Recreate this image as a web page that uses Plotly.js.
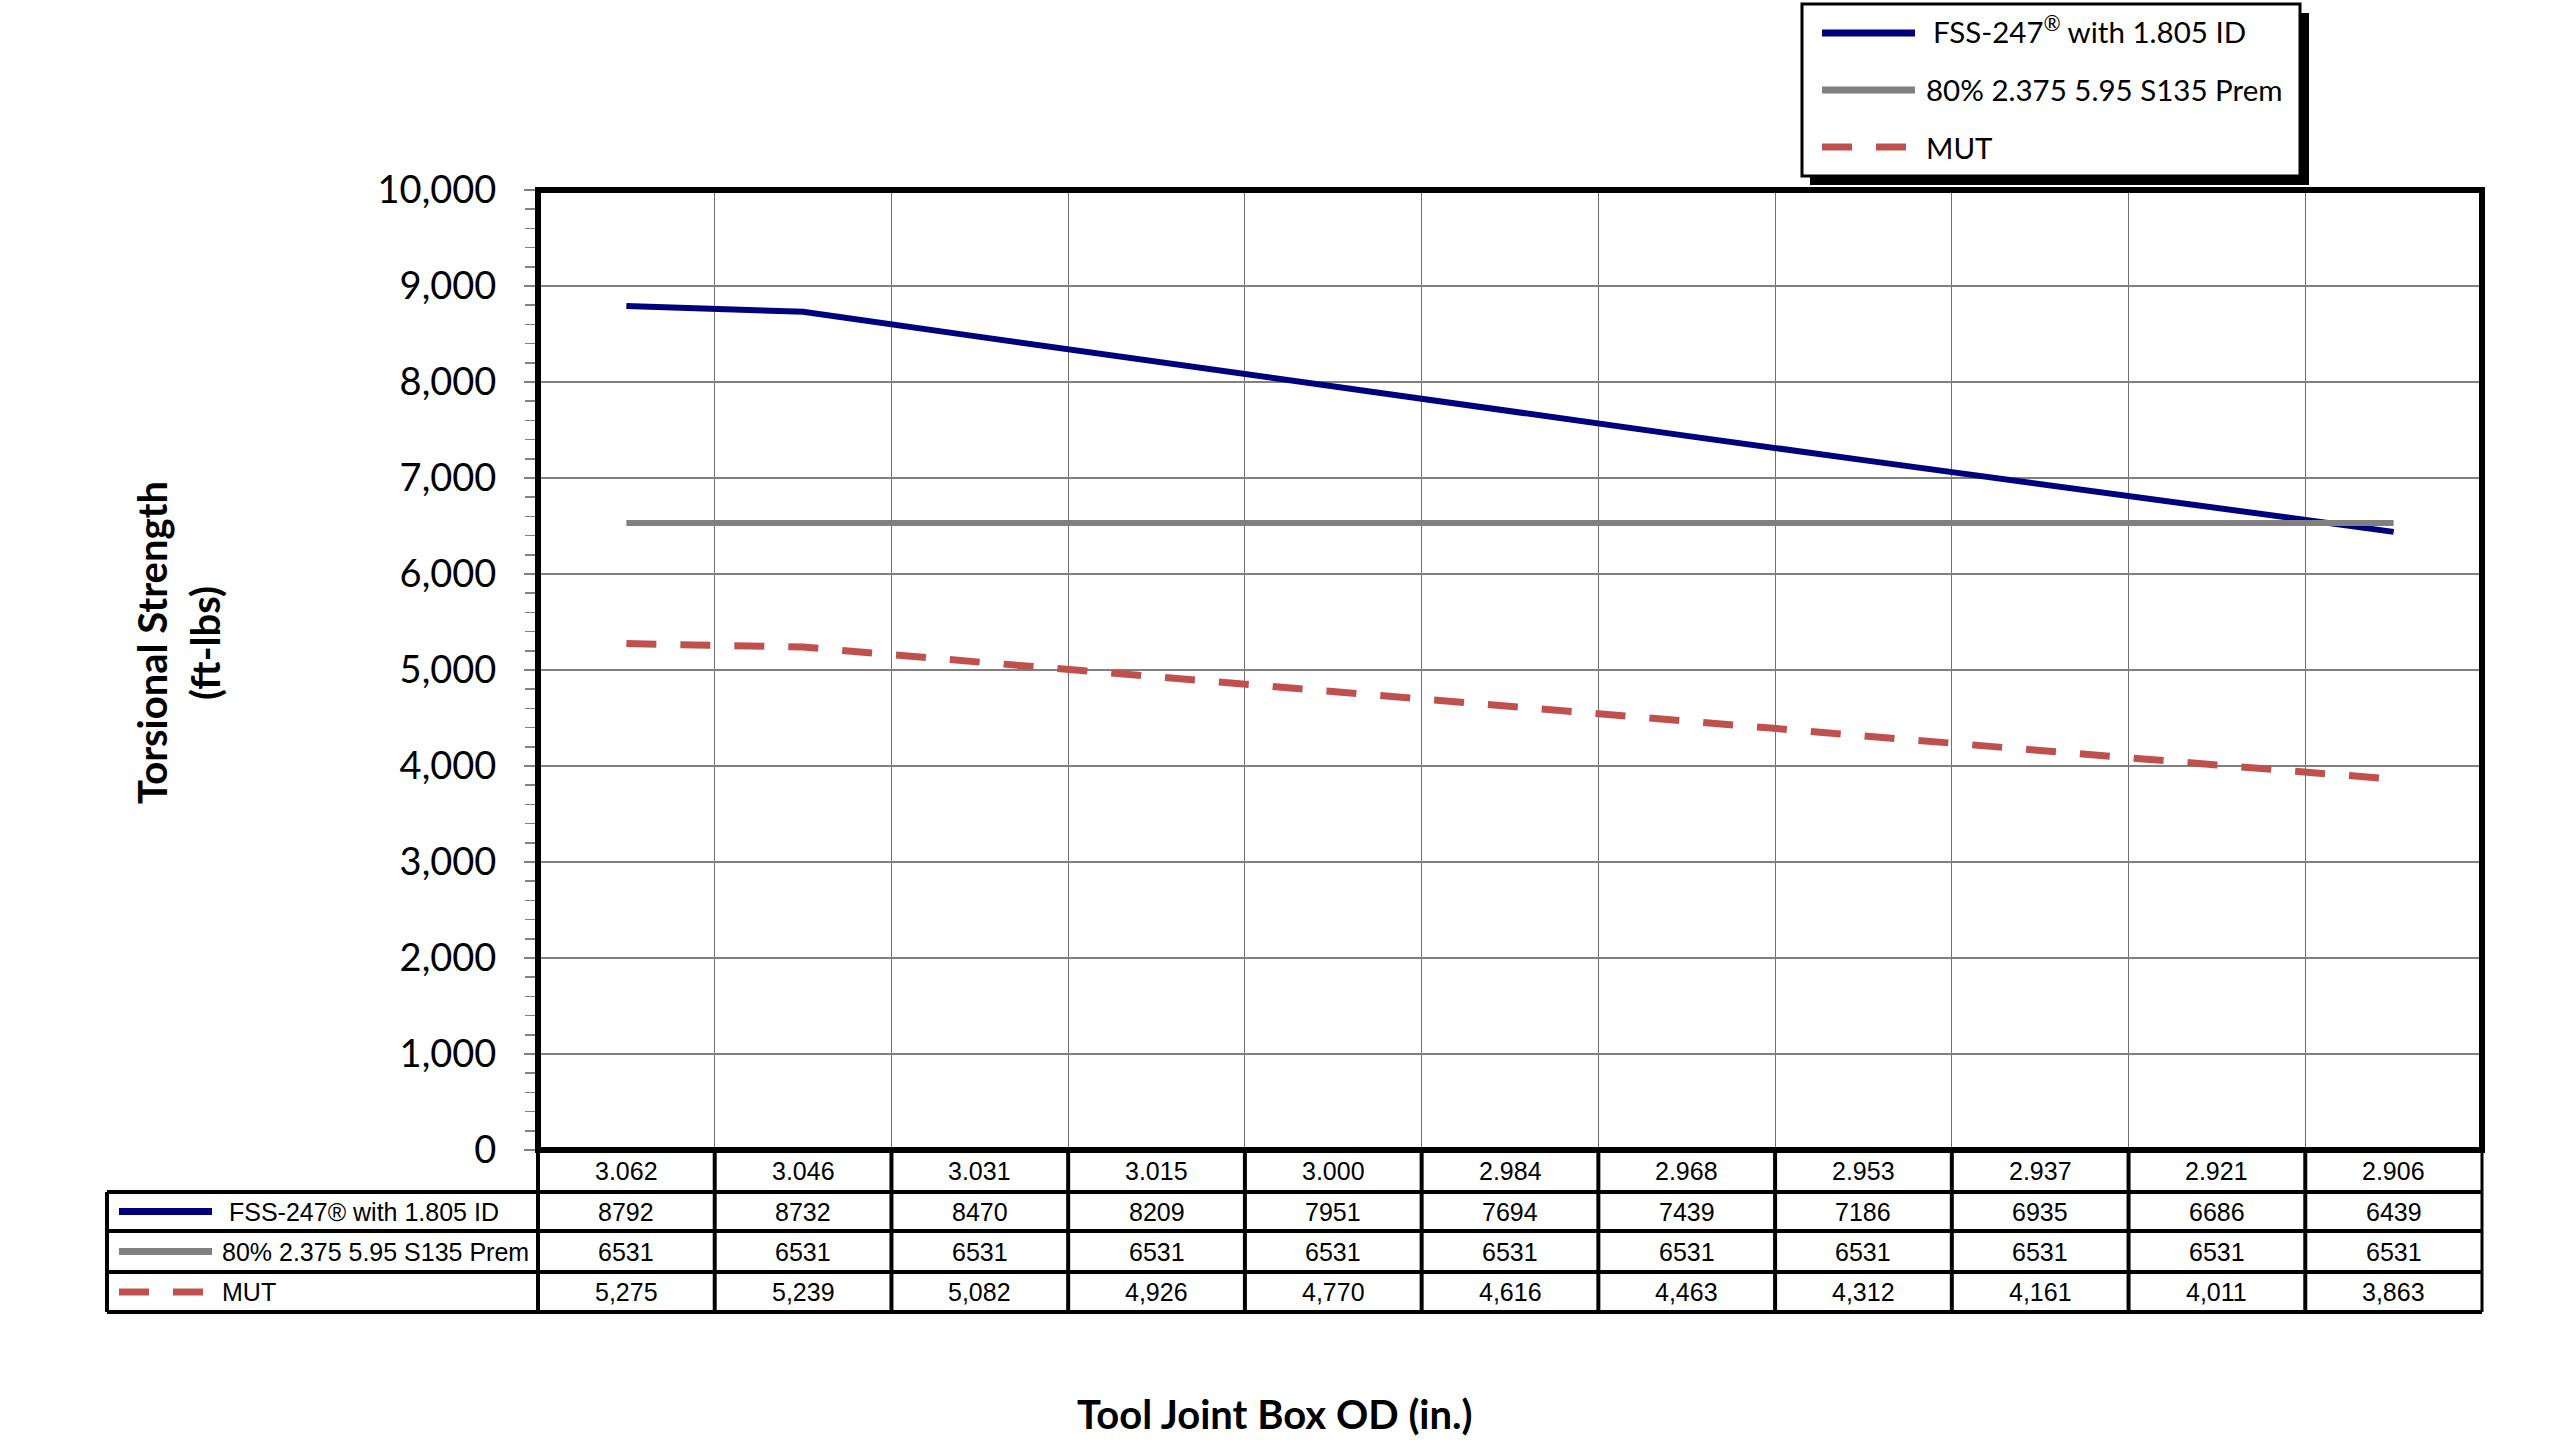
<!DOCTYPE html>
<html>
<head>
<meta charset="utf-8">
<script src="https://cdn.plot.ly/plotly-3.0.1.min.js"></script>
<style>html,body{margin:0;padding:0;background:#fff;}#chart{width:2560px;height:1452px;}</style>
</head>
<body>
<div id="chart"></div>
<script>
// ---- data ----
const categories = ["3.062","3.046","3.031","3.015","3.000","2.984","2.968","2.953","2.937","2.921","2.906"];
const seriesNames = ["FSS-247\u00AE with 1.805 ID", "80% 2.375 5.95 S135 Prem", "MUT"];
const fssValues  = [8792, 8732, 8470, 8209, 7951, 7694, 7439, 7186, 6935, 6686, 6439];
const premValues = [6531, 6531, 6531, 6531, 6531, 6531, 6531, 6531, 6531, 6531, 6531];
const mutValues  = [5275, 5239, 5082, 4926, 4770, 4616, 4463, 4312, 4161, 4011, 3863];
const yTitleLines = ["Torsional Strength", "(ft-lbs)"];
const xTitle = "Tool Joint Box OD (in.)";

// ---- styles ----
const seriesValues = [fssValues, premValues, mutValues];
const seriesColors = ["#00007F", "#808080", "#C0504D"];
const seriesDash = ["solid", "solid", "30px,24px"];
const seriesWidth = [6, 6, 7];
const tableFormats = [v => String(v), v => String(v), v => v.toLocaleString('en-US')];

// ---- geometry (pixels) ----
const FIG_W = 2560, FIG_H = 1452;
const L = 538, T = 190, R = 78, B = 302;
const W = FIG_W - L - R, H = FIG_H - T - B;
const px = p => (p - L) / W;
const py = p => (T + H - p) / H;

const calibri = "Lato, 'Open Sans', sans-serif";
const arial = "'Liberation Sans', Arial, sans-serif";

const traces = seriesValues.map((vals, i) => ({
  type: 'scatter', mode: 'lines',
  x: categories, y: vals, name: seriesNames[i],
  line: {color: seriesColors[i], width: seriesWidth[i], dash: seriesDash[i]},
  showlegend: false, hoverinfo: 'skip'
}));

const shapes = [];
const annotations = [];
const ann = o => annotations.push(Object.assign({showarrow:false, xanchor:'center', yanchor:'middle'}, o));

// plot border
shapes.push({type:'rect', xref:'paper', yref:'paper', x0:0, x1:1, y0:0, y1:1,
  line:{color:'#000', width:6}, fillcolor:'rgba(0,0,0,0)', layer:'above'});

// ---- data table ----
const rowEdges = [1150, 1192, 1231, 1272, 1312];
const tableLeft = 107;
const tl = {color:'#000', width:4};
shapes.push({type:'line', xref:'paper', yref:'paper', x0:0, x1:1, y0:py(1150), y1:py(1150), line:{color:'#000', width:6}});
for (let r = 1; r < rowEdges.length; r++) {
  shapes.push({type:'line', xref:'paper', yref:'paper', x0:px(tableLeft), x1:1,
    y0:py(rowEdges[r]), y1:py(rowEdges[r]), line: tl});
}
shapes.push({type:'line', xref:'paper', yref:'paper', x0:px(tableLeft), x1:px(tableLeft),
  y0:py(rowEdges[1]), y1:py(rowEdges[4]), line: tl});
shapes.push({type:'line', xref:'paper', yref:'paper', x0:0, x1:0,
  y0:py(rowEdges[0]), y1:py(rowEdges[4]), line: tl});
shapes.push({type:'line', xref:'paper', yref:'paper', x0:1, x1:1,
  y0:py(rowEdges[0]), y1:py(rowEdges[4]), line:{color:'#000', width:3}});
for (let i = 0; i < categories.length - 1; i++) {
  shapes.push({type:'line', xref:'x', yref:'paper', x0:i + 0.5, x1:i + 0.5,
    y0:py(rowEdges[0]), y1:py(rowEdges[4]), line: tl});
}
const rowCenter = r => py((rowEdges[r] + rowEdges[r + 1]) / 2);
// header row: categories (category index on the category axis)
categories.forEach((c, i) => ann({xref:'x', yref:'paper', x:i, y:rowCenter(0),
  text:c, font:{family:arial, size:25, color:'#000'}}));
// series rows
seriesValues.forEach((vals, s) => {
  vals.forEach((v, i) => ann({xref:'x', yref:'paper', x:i, y:rowCenter(s + 1),
    text:tableFormats[s](v), font:{family:arial, size:25, color:'#000'}}));
  shapes.push({type:'line', xref:'paper', yref:'paper', x0:px(119), x1:px(212),
    y0:rowCenter(s + 1), y1:rowCenter(s + 1),
    line:{color:seriesColors[s], width:7, dash:seriesDash[s]}});
  ann({xref:'paper', yref:'paper', x:px(s === 0 ? 227 : 220), y:rowCenter(s + 1),
    xanchor:'left', text:seriesNames[s], font:{family:arial, size:25, color:'#000'}});
});

// ---- legend box (top) ----
const lgx0 = 1802, lgx1 = 2300, lgy0 = 4, lgy1 = 176;
shapes.push({type:'rect', xref:'paper', yref:'paper', x0:px(lgx0 + 8), x1:px(lgx1 + 9),
  y0:py(lgy1 + 9), y1:py(lgy0 + 9), fillcolor:'#000', line:{width:0}});
shapes.push({type:'rect', xref:'paper', yref:'paper', x0:px(lgx0), x1:px(lgx1),
  y0:py(lgy1), y1:py(lgy0), fillcolor:'#fff', line:{color:'#000', width:3}});
const legY = [33, 90, 147];
seriesNames.forEach((n, s) => {
  shapes.push({type:'line', xref:'paper', yref:'paper', x0:px(1822), x1:px(1915),
    y0:py(legY[s]), y1:py(legY[s]), line:{color:seriesColors[s], width:7, dash:seriesDash[s]}});
  ann({xref:'paper', yref:'paper', x:px(s === 0 ? 1931 : 1924), y:py(legY[s] + (s === 0 ? -3 : 0)),
    xanchor:'left', text:n.replace('\u00AE', '<sup>\u00AE</sup>'),
    font:{family:calibri, size:29.5, color:'#000'}});
});

// ---- axis titles ----
ann({xref:'paper', yref:'paper', x:px(152), y:py(643), textangle:-90,
  text:'<b>' + yTitleLines[0] + '</b>', font:{family:calibri, size:40, color:'#000'}});
ann({xref:'paper', yref:'paper', x:px(205), y:py(643), textangle:-90,
  text:'<b>' + yTitleLines[1] + '</b>', font:{family:calibri, size:40, color:'#000'}});
ann({xref:'paper', yref:'paper', x:px(1275), y:py(1414),
  text:'<b>' + xTitle + '</b>', font:{family:calibri, size:40, color:'#000'}});

const layout = {
  width: FIG_W, height: FIG_H,
  margin: {l:L, r:R, t:T, b:B, pad:0},
  paper_bgcolor:'#fff', plot_bgcolor:'#fff',
  showlegend:false,
  xaxis: {type:'category', range:[-0.5, categories.length - 0.5], tickson:'boundaries',
    showticklabels:false, ticks:'', showgrid:true, gridcolor:'#6f6f6f', gridwidth:1,
    zeroline:false, showline:false, fixedrange:true},
  yaxis: {range:[0, 10000], dtick:1000, tickformat:',d', ticks:'outside', ticklen:13,
    tickwidth:1.5, tickcolor:'#808080', showgrid:true, gridcolor:'#808080', gridwidth:1.4,
    zeroline:false, showline:false, ticklabelstandoff:20,
    tickfont:{family:calibri, size:38, color:'#000'},
    minor:{dtick:200, ticks:'outside', ticklen:12, tickwidth:1.5, tickcolor:'#808080', showgrid:false},
    fixedrange:true},
  shapes: shapes,
  annotations: annotations
};

Plotly.newPlot('chart', traces, layout, {displayModeBar:false, staticPlot:true});
</script>
</body>
</html>
